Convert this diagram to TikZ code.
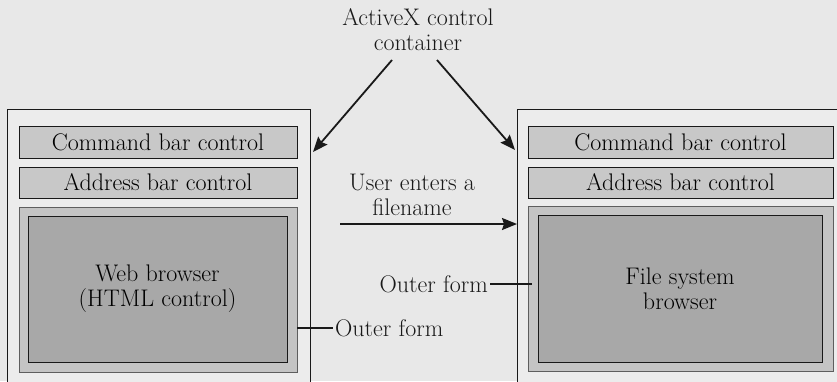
\documentclass[tikz,border=0pt]{standalone}
\usetikzlibrary{arrows.meta, positioning}
\definecolor{paper}{RGB}{232, 232, 232}
\definecolor{formfill}{RGB}{236, 236, 236}
\definecolor{barfill}{RGB}{200, 200, 200}
\definecolor{panefill}{RGB}{196, 196, 196}
\definecolor{viewfill}{RGB}{168, 168, 168}
\definecolor{inkcolor}{RGB}{25, 25, 25}
\tikzset{
  frame/.style={rectangle, anchor=north west, draw=inkcolor, line width=1.1pt, fill=formfill, inner sep=0pt},
  barbox/.style={rectangle, draw=inkcolor, line width=0.9pt, fill=barfill, minimum height=32pt, inner sep=0pt, font=\fontsize{24}{25}\selectfont},
  panebox/.style={rectangle, draw=inkcolor!70, line width=0.8pt, fill=panefill, inner sep=0pt},
  viewbox/.style={rectangle, draw=inkcolor, line width=0.9pt, fill=viewfill, inner sep=0pt, align=center, font=\fontsize{24}{25}\selectfont},
  txt/.style={align=center, inner sep=2pt, font=\fontsize{24}{25}\selectfont, text=inkcolor},
  arr/.style={-{Stealth[length=15pt, width=12pt, inset=2pt]}, line width=1.8pt, color=inkcolor},
  tick/.style={line width=1.3pt, color=inkcolor}
}
\begin{document}
\begin{tikzpicture}[x=1pt, y=-1pt]

  \useasboundingbox[fill=paper] (0,0) rectangle (837,381);

  % two outer forms, both run off the bottom edge
  \node[frame, minimum width=303pt, minimum height=290pt] (lframe) at (7,109) {};
  \node[frame, minimum width=340pt, minimum height=290pt] (rframe) at (517,109) {};

  % left form
  \node[barbox, minimum width=278pt] (cmdL)  at (158,142)   {Command bar control};
  \node[barbox, minimum width=278pt, minimum height=31pt] (addrL) at (158,182.5) {Address bar control};
  \node[panebox, minimum width=278pt, minimum height=165pt] (paneL) at (158,289.5) {};
  \node[viewbox, minimum width=259pt, minimum height=146pt] (viewL) at (157.5,289)
    {Web browser\\(HTML control)};

  % right form
  \node[barbox, minimum width=305pt] (cmdR)  at (680.5,142)   {Command bar control};
  \node[barbox, minimum width=305pt, minimum height=31pt] (addrR) at (680.5,182.5) {Address bar control};
  \node[panebox, minimum width=305pt, minimum height=165pt] (paneR) at (680.5,288.5) {};
  \node[viewbox, minimum width=284pt, minimum height=147pt] (viewR) at (680,288.5)
    {File system\\browser};

  % labels
  \node[txt] (container) at (418,30) {ActiveX control\\container};
  \node[txt] (user) at (412,195) {User enters a\\filename};
  \node[txt, anchor=west] (outerL) at (333,328) {Outer form};
  \node[txt, anchor=east] (outerR) at (490,284) {Outer form};

  \coordinate (srcL) at (392,60);
  \coordinate (srcR) at (437,60);
  \coordinate (tipL) at (313,152);
  \coordinate (tipR) at (515,150);
  \coordinate (msg)  at (340,224);

  \draw[arr] (srcL) -- (tipL);
  \draw[arr] (srcR) -- (tipR);
  \draw[arr] (msg) -- (rframe.west |- msg);

  \draw[tick] (paneL.east |- outerL.west) -- (outerL.west);
  \draw[tick] (outerR.east) -- ([xshift=4pt]paneR.west |- outerR.east);

\end{tikzpicture}
\end{document}
